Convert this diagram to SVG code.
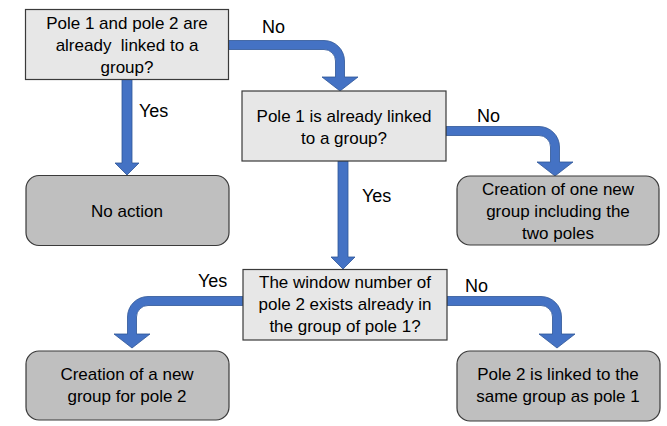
<svg xmlns="http://www.w3.org/2000/svg" width="667" height="426" viewBox="0 0 667 426">
<style>
.q{fill:#e7e7e7;stroke:#3a3a3a;stroke-width:1.2}
.r{fill:#bfbfbf;stroke:#3a3a3a;stroke-width:1.2}
.t{font-family:"Liberation Sans",Arial,sans-serif;font-size:17px;fill:#000;text-anchor:middle}
.l{font-family:"Liberation Sans",Arial,sans-serif;font-size:18px;fill:#000}
.a{fill:#4472c4;stroke:#2f5597;stroke-width:0.8}
</style>
<rect width="667" height="426" fill="#fff"/>
<g id="connectors">
<path class="a" d="M122,79 H132 V163 H139 L127,175 L115,163 H122 Z"/>
<path class="a" d="M338,161 H348 V257 H355 L343,269 L331,257 H338 Z"/>
<path class="a" d="M228,40.5 H324 A20.5 20.5 0 0 1 344.5,61 V77 H358 L340,91 L322,77 H335.5 V61 A11.5 11.5 0 0 0 324,49.5 H228 Z"/>
<path class="a" d="M446,126.5 H539 A20.5 20.5 0 0 1 559.5,147 V162 H573 L555,176 L537,162 H550.5 V147 A11.5 11.5 0 0 0 539,135.5 H446 Z"/>
<path class="a" d="M447,296.5 H541 A20.5 20.5 0 0 1 561.5,317 V334 H575 L557,348 L539,334 H552.5 V317 A11.5 11.5 0 0 0 541,305.5 H447 Z"/>
<path class="a" d="M243,296.5 H148 A20.5 20.5 0 0 0 127.5,317 V334 H114 L132,348 L150,334 H136.5 V317 A11.5 11.5 0 0 1 148,305.5 H243 Z"/>
<text class="l" x="262" y="33">No</text>
<text class="l" x="139" y="117">Yes</text>
<text class="l" x="477" y="122">No</text>
<text class="l" x="362" y="202">Yes</text>
<text class="l" x="198" y="287">Yes</text>
<text class="l" x="465" y="292">No</text>
</g>
<g id="n1">
<rect class="q" x="25.5" y="9.5" width="203" height="70"/>
<text class="t" x="127" y="29">Pole 1 and pole 2 are</text>
<text class="t" x="127" y="51" style="white-space:pre" xml:space="preserve">already  linked to a</text>
<text class="t" x="127" y="73">group?</text>
</g>
<g id="n2">
<rect class="r" x="26" y="175.5" width="203" height="70" rx="13"/>
<text class="t" x="127" y="217">No action</text>
</g>
<g id="n3">
<rect class="q" x="242" y="91" width="204" height="70"/>
<text class="t" x="344" y="122">Pole 1 is already linked</text>
<text class="t" x="344" y="144">to a group?</text>
</g>
<g id="n4">
<rect class="r" x="457" y="176" width="202" height="69" rx="13"/>
<text class="t" x="558" y="195">Creation of one new</text>
<text class="t" x="558" y="217">group including the</text>
<text class="t" x="558" y="239">two poles</text>
</g>
<g id="n5">
<rect class="q" x="243" y="269.5" width="204" height="70.5"/>
<text class="t" x="345" y="288">The window number of</text>
<text class="t" x="345" y="310">pole 2 exists already in</text>
<text class="t" x="345" y="332">the group of pole 1?</text>
</g>
<g id="n6">
<rect class="r" x="26" y="351" width="203" height="69" rx="13"/>
<text class="t" x="127" y="380">Creation of a new</text>
<text class="t" x="127" y="402">group for pole 2</text>
</g>
<g id="n7">
<rect class="r" x="457" y="351" width="203" height="70" rx="13"/>
<text class="t" x="558" y="380">Pole 2 is linked to the</text>
<text class="t" x="558" y="402">same group as pole 1</text>
</g>
</svg>
